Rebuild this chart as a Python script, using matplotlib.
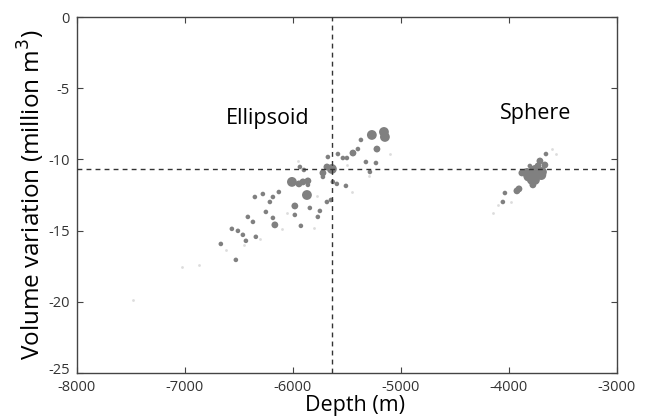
import matplotlib

matplotlib.use("Agg")
import matplotlib.pyplot as plt
import matplotlib.transforms as mtransforms

plt.rcParams["font.family"] = ["Open Sans", "DejaVu Sans"]
plt.rcParams["axes.unicode_minus"] = False

# Ellipsoid source solutions: depth (m), volume variation (million m3), marker size class
ell_depth = [-5157, -5148, -5269, -5370, -5222, -5398, -5444, -5500, -5537, -5583,
             -5676, -5324, -5231, -5287, -5639, -5685, -5722, -5722, -5630, -5593,
             -5509, -5935, -5898, -6009, -5944, -5907, -5861, -5861, -5870, -6130,
             -6185, -6213, -6278, -6352, -5982, -5685, -5648, -6250, -6185, -6417,
             -6370, -5982, -5843, -5750, -5769, -6167, -5926, -6565, -6509, -6463,
             -6435, -6343, -6667, -6528]
ell_vol = [-8.07, -8.42, -8.28, -8.63, -9.27, -9.27, -9.55, -9.90, -9.90, -9.62,
           -9.83, -10.18, -10.25, -10.88, -10.67, -10.53, -10.95, -11.23, -11.58, -11.72,
           -11.86, -10.53, -10.74, -11.58, -11.72, -11.58, -11.51, -11.79, -12.50, -12.29,
           -12.64, -12.99, -12.43, -12.64, -13.27, -12.99, -12.85, -13.69, -14.11, -14.04,
           -14.39, -13.90, -13.41, -13.62, -14.04, -14.60, -14.67, -14.88, -15.02, -15.30,
           -15.72, -15.44, -15.94, -17.06]
ell_size = ["L", "L", "L", "S", "M", "S", "M", "S", "S", "S",
            "S", "S", "S", "S", "L", "M", "M", "S", "S", "S",
            "S", "S", "S", "L", "M", "M", "M", "S", "L", "S",
            "S", "S", "S", "S", "M", "S", "S", "S", "S", "S",
            "S", "S", "S", "S", "S", "M", "S", "S", "S", "S",
            "S", "S", "S", "S"]

# Sphere source solutions
sph_depth = [-3657, -3713, -3806, -3731, -3833, -3759, -3694, -3778, -3787, -3759,
             -3778, -3880, -3667, -3907, -3926, -4037, -4056, -3740, -3820, -3700]
sph_vol = [-9.62, -10.11, -10.46, -10.46, -10.95, -10.74, -10.88, -10.88, -11.44, -11.44,
           -11.79, -10.95, -10.39, -12.07, -12.21, -12.36, -12.99, -11.10, -11.20, -11.10]
sph_size = ["S", "M", "S", "M", "L", "L", "L", "L", "L", "L",
            "M", "M", "M", "M", "M", "S", "S", "L", "L", "L"]

# faint low-weight solutions
faint_depth = [-7481, -7028, -6870, -4148, -6620, -6300, -6100, -5800, -5450, -5300,
               -5100, -5500, -6050, -5950, -4100, -3980, -3600, -3560, -5780, -6450]
faint_vol = [-19.87, -17.55, -17.41, -13.76, -16.4, -15.6, -14.9, -14.8, -12.3, -11.2,
             -9.6, -10.4, -13.8, -10.1, -13.2, -13.0, -9.3, -9.6, -12.6, -16.0]

# mean solution (dashed cross)
mean_depth = -5640
mean_vol = -10.7

size_map = {"S": 11, "M": 24, "L": 50}
grey = "#808080"

fig = plt.figure(figsize=(6.46, 4.18), dpi=100)
ax = fig.add_axes([0.119, 0.108, 0.836, 0.851])

ax.scatter(faint_depth, faint_vol, s=4, color="#dcdcdc", linewidths=0, zorder=1)
ax.scatter(ell_depth, ell_vol, s=[size_map[k] for k in ell_size], color=grey,
           linewidths=0, zorder=2)
ax.scatter(sph_depth, sph_vol, s=[size_map[k] for k in sph_size], color=grey,
           linewidths=0, zorder=2)

ax.axvline(mean_depth, color="#333333", lw=1, ls=(0, (3.5, 3)), zorder=3)
ax.axhline(mean_vol, color="#333333", lw=1, ls=(0, (3.5, 3)), zorder=3)

ax.text(-6231, -7.1, "Ellipsoid", fontsize=15.5, ha="center", va="center")
ax.text(-3750, -6.8, "Sphere", fontsize=15.5, ha="center", va="center")

ax.set_xlim(-8000, -3000)
ax.set_ylim(-25, 0)
ax.set_xticks([-8000, -7000, -6000, -5000, -4000, -3000])
ax.set_yticks([-25, -20, -15, -10, -5, 0])
ax.tick_params(direction="in", top=True, right=True, length=4, labelsize=10.5,
               labelcolor="#333333", color="#444444")
ax.tick_params(axis="x", pad=5)
ax.tick_params(axis="y", pad=5)
for sp in ax.spines.values():
    sp.set_color("#444444")
    sp.set_linewidth(1)

# nudge the bottom y label up a little so it clears "-8000"
lab = ax.get_yticklabels()[0]
lab.set_transform(lab.get_transform() + mtransforms.ScaledTranslation(0, 3 / 72, fig.dpi_scale_trans))

ax.set_xlabel("Depth (m)", fontsize=15.5)
ax.xaxis.set_label_coords(0.515, -0.062)
ax.set_ylabel("Volume variation (million m$^3$)", fontsize=17.5, labelpad=1)

fig.savefig("out.png", dpi=100)
